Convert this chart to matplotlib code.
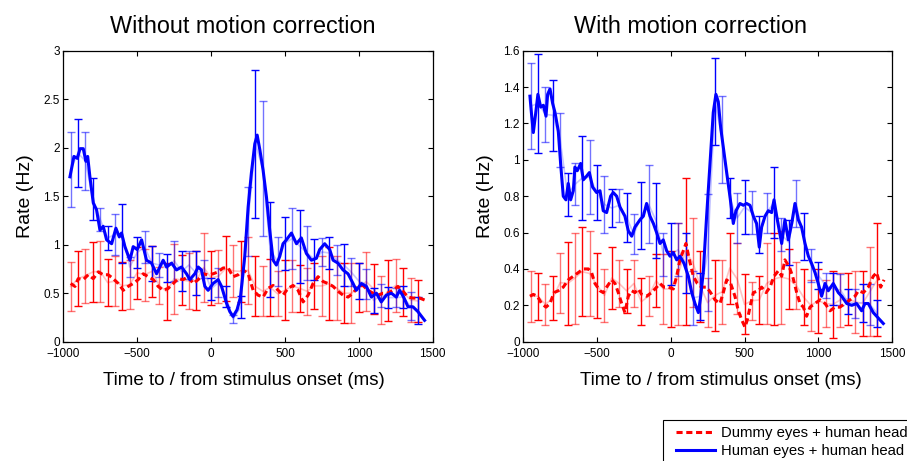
import numpy as np
import matplotlib
matplotlib.use("Agg")
import matplotlib.pyplot as plt
from matplotlib.patches import Rectangle

plt.rcParams['font.family'] = ['Liberation Sans', 'DejaVu Sans']

# ---------------- data ----------------
titles = ["Without motion correction", "With motion correction"]
xlabel = "Time to / from stimulus onset (ms)"
ylabel = "Rate (Hz)"
legend_labels = ["Dummy eyes + human head", "Human eyes + human head"]

bar_t = list(range(-950, 1401, 50))

# Left panel, human (blue)
L_human_t = [-955,-928,-905,-887,-865,-847,-835,-820,-797,-775,-752,-730,-707,-673,-644,-621,-606,-583,-549,-527,
             -500,-470,-437,-403,-369,-324,-301,-267,-234,-200,-166,-144,-110,-87,-65,-42,-20,14,48,71,
             104,127,149,176,199,228,251,273,296,312,330,352,375,397,420,442,465,487,510,544,
             578,611,645,679,713,735,769,803,826,859,893,927,961,983,1017,1051,1085,1119,1152,1186,
             1220,1254,1276,1303,1333,1366,1400,1445]
L_human_v = [1.70,1.91,1.89,1.99,1.99,1.86,1.91,1.70,1.43,1.36,1.15,1.19,1.05,1.01,1.17,1.08,1.12,0.98,0.84,0.98,
             0.95,1.05,0.84,0.81,0.70,0.84,0.77,0.81,0.74,0.77,0.70,0.64,0.70,0.77,0.74,0.57,0.53,0.60,0.64,0.57,
             0.40,0.31,0.26,0.33,0.46,0.88,1.39,1.74,2.04,2.13,1.98,1.77,1.49,1.15,0.84,0.79,0.88,1.01,1.05,1.12,
             1.01,1.07,0.91,0.84,0.86,0.95,1.01,0.95,0.84,0.81,0.74,0.70,0.60,0.53,0.60,0.57,0.46,0.50,0.41,0.48,
             0.50,0.46,0.53,0.46,0.36,0.36,0.31,0.22]
L_human_hi = [2.16,2.30,2.16,1.69,1.38,1.19,1.32,1.42,0.87,1.08,1.14,0.99,0.91,0.90,1.04,0.93,0.93,0.93,0.84,0.66,
              0.76,0.57,0.28,0.47,1.59,2.80,2.48,1.44,1.08,1.29,1.38,1.36,1.19,1.06,1.07,1.08,1.00,1.01,0.86,0.81,
              0.75,0.55,0.60,0.56,0.55,0.57,0.51,0.46]
L_human_lo = [1.39,1.59,1.56,1.25,1.14,0.95,0.89,0.81,0.67,0.76,0.81,0.63,0.67,0.62,0.63,0.52,0.65,0.48,0.66,0.43,
              0.46,0.36,0.19,0.24,0.88,1.28,1.09,0.46,0.57,0.74,0.75,0.61,0.64,0.64,0.78,0.75,0.69,0.57,0.57,0.44,
              0.44,0.30,0.36,0.35,0.36,0.35,0.22,0.18]

# Left panel, dummy (red)
L_dummy_t = [-950,-921,-899,-865,-831,-797,-763,-730,-696,-662,-628,-594,-561,-527,-493,-459,-425,-391,-358,-324,
             -290,-256,-222,-189,-155,-121,-87,-53,-20,14,48,82,116,149,183,217,251,285,318,352,
             386,420,454,487,521,555,589,623,657,690,724,758,792,826,859,893,927,961,995,1028,
             1062,1096,1130,1164,1197,1231,1265,1299,1333,1366,1411,1445]
L_dummy_v = [0.60,0.57,0.65,0.64,0.69,0.65,0.72,0.69,0.69,0.65,0.60,0.53,0.57,0.60,0.64,0.70,0.67,0.64,0.57,0.53,
             0.55,0.60,0.65,0.64,0.67,0.60,0.64,0.70,0.69,0.70,0.72,0.76,0.76,0.67,0.69,0.74,0.70,0.53,0.48,0.46,
             0.55,0.58,0.53,0.48,0.55,0.58,0.53,0.41,0.48,0.60,0.67,0.62,0.60,0.57,0.52,0.48,0.46,0.50,0.57,0.58,
             0.53,0.50,0.48,0.50,0.50,0.53,0.57,0.52,0.46,0.45,0.45,0.43]
L_dummy_hi = [0.82,0.93,0.96,1.03,1.04,0.85,0.88,0.82,0.84,0.98,0.96,0.99,0.77,0.81,1.01,0.89,0.91,0.93,1.12,0.94,
              0.95,1.09,1.00,1.04,1.08,0.88,0.78,0.85,0.73,0.84,0.84,0.79,0.76,0.81,0.88,0.98,0.88,0.81,0.81,0.81,
              0.92,0.80,0.68,0.84,0.85,0.76,0.66,0.64]
L_dummy_lo = [0.32,0.37,0.40,0.41,0.41,0.37,0.37,0.33,0.34,0.44,0.42,0.46,0.39,0.22,0.29,0.38,0.34,0.33,0.41,0.38,
              0.40,0.42,0.46,0.41,0.39,0.26,0.26,0.27,0.26,0.22,0.31,0.31,0.28,0.34,0.27,0.22,0.22,0.19,0.19,0.31,
              0.32,0.29,0.18,0.21,0.31,0.26,0.20,0.20]

# Right panel, human (blue)
R_human_t = [-955,-943,-932,-914,-901,-882,-864,-846,-835,-819,-801,-785,-763,-747,-729,-711,-695,-679,-661,-650,
             -634,-611,-593,-571,-552,-530,-503,-480,-458,-435,-408,-390,-367,-344,-311,-288,-265,-243,-209,-186,
             -164,-141,-118,-96,-73,-51,-28,-5,17,40,62,90,119,142,164,187,203,221,243,266,
             288,306,322,338,356,379,401,424,442,469,492,514,537,560,582,600,616,639,661,684,
             700,718,736,752,774,797,820,842,865,887,910,933,955,978,1000,1023,1046,1068,1102,1136,
             1159,1193,1227,1260,1294,1317,1339,1373,1407,1441]
R_human_v = [1.35,1.24,1.15,1.27,1.36,1.29,1.30,1.24,1.36,1.39,1.31,1.26,1.16,0.98,0.80,0.78,0.87,0.78,0.83,0.96,
             0.94,0.98,0.89,0.91,0.93,0.85,0.82,0.83,0.72,0.71,0.80,0.82,0.80,0.74,0.69,0.61,0.58,0.63,0.67,0.69,
             0.76,0.69,0.65,0.60,0.54,0.56,0.50,0.47,0.49,0.45,0.47,0.43,0.36,0.27,0.21,0.16,0.25,0.39,0.69,0.98,
             1.26,1.36,1.32,1.18,1.07,0.93,0.80,0.65,0.72,0.76,0.75,0.76,0.75,0.69,0.65,0.52,0.63,0.69,0.72,0.71,
             0.78,0.69,0.61,0.54,0.67,0.56,0.65,0.76,0.67,0.63,0.54,0.47,0.43,0.38,0.32,0.25,0.32,0.28,0.32,0.27,
             0.25,0.21,0.20,0.21,0.17,0.21,0.21,0.16,0.13,0.10]
R_human_hi = [1.53,1.58,1.40,1.44,1.26,0.93,0.98,1.13,1.11,0.97,0.91,0.84,0.84,0.82,0.70,0.88,0.97,0.87,0.60,0.65,
              0.65,0.60,0.39,0.38,0.81,1.56,1.35,0.90,0.82,0.89,0.83,0.69,0.82,0.96,0.68,0.67,0.89,0.71,0.51,0.44,
              0.38,0.38,0.37,0.29,0.29,0.32,0.32,0.23]
R_human_lo = [1.06,1.04,1.10,1.05,0.96,0.69,0.75,0.67,0.70,0.67,0.60,0.63,0.66,0.55,0.48,0.51,0.54,0.46,0.36,0.31,
              0.36,0.27,0.09,0.12,0.17,1.08,0.87,0.68,0.54,0.59,0.59,0.49,0.60,0.57,0.50,0.42,0.63,0.45,0.33,0.29,
              0.24,0.20,0.20,0.15,0.13,0.11,0.09,0.08]

# Right panel, dummy (red)
R_dummy_t = [-955,-932,-905,-876,-846,-819,-792,-763,-729,-695,-661,-627,-593,-559,-537,-514,-480,-458,-435,-401,
             -378,-356,-333,-311,-288,-265,-243,-220,-198,-164,-130,-96,-73,-46,-17,17,40,62,85,103,
             126,153,180,209,243,270,300,334,356,379,406,435,458,481,503,519,537,560,594,616,
             646,673,700,729,752,774,804,826,854,876,899,921,944,978,1012,1046,1080,1113,1147,1181,
             1215,1249,1272,1306,1339,1373,1396,1423,1446]
R_dummy_v = [0.25,0.26,0.25,0.21,0.19,0.21,0.27,0.28,0.30,0.34,0.36,0.38,0.40,0.40,0.38,0.32,0.28,0.27,0.30,0.34,
             0.32,0.27,0.21,0.16,0.25,0.28,0.27,0.29,0.26,0.25,0.27,0.30,0.32,0.30,0.30,0.29,0.36,0.45,0.50,0.54,
             0.45,0.36,0.32,0.30,0.30,0.27,0.23,0.21,0.27,0.34,0.32,0.25,0.17,0.12,0.08,0.12,0.19,0.27,0.28,0.30,
             0.27,0.30,0.36,0.39,0.36,0.45,0.41,0.36,0.27,0.21,0.19,0.14,0.19,0.21,0.23,0.21,0.17,0.19,0.19,0.21,
             0.23,0.25,0.28,0.27,0.30,0.36,0.38,0.30,0.34]
R_dummy_hi = [0.39,0.38,0.32,0.36,0.49,0.55,0.60,0.63,0.61,0.49,0.40,0.52,0.45,0.40,0.45,0.35,0.36,0.48,0.48,0.50,
              0.65,0.90,0.68,0.50,0.35,0.45,0.45,0.60,0.54,0.37,0.33,0.36,0.54,0.60,0.61,0.51,0.44,0.40,0.34,0.40,
              0.34,0.39,0.38,0.38,0.39,0.39,0.52,0.65]
R_dummy_lo = [0.11,0.12,0.09,0.12,0.16,0.09,0.10,0.14,0.14,0.13,0.11,0.18,0.19,0.16,0.19,0.09,0.14,0.19,0.10,0.08,
              0.09,0.09,0.19,0.11,0.08,0.06,0.10,0.21,0.15,0.04,0.12,0.10,0.10,0.09,0.10,0.18,0.18,0.09,0.06,0.05,
              0.08,0.02,0.08,0.09,0.05,0.03,0.03,0.03]

x_ticks = [-1000, -500, 0, 500, 1000, 1500]
y_ticks = [[0, 0.5, 1, 1.5, 2, 2.5, 3], [0, 0.2, 0.4, 0.6, 0.8, 1, 1.2, 1.4, 1.6]]
y_lims = [(0, 3), (0, 1.6)]

# ---------------- plotting ----------------
fig = plt.figure(figsize=(9.07, 4.61), dpi=100)
W, H = 907, 461
ax_boxes = [(63.3, 50.7, 432.7, 341.7), (523.3, 50.7, 892.0, 341.7)]
title_x = [0.487, 0.4535]
xlabel_x = [0.4886, 0.536]

RED = '#ff0000'
BLUE = '#0000ff'

panels = [
    (L_dummy_t, L_dummy_v, L_dummy_lo, L_dummy_hi, L_human_t, L_human_v, L_human_lo, L_human_hi),
    (R_dummy_t, R_dummy_v, R_dummy_lo, R_dummy_hi, R_human_t, R_human_v, R_human_lo, R_human_hi),
]

handles = []
for i, (box, pdata) in enumerate(zip(ax_boxes, panels)):
    x0, y0, x1, y1 = box
    ax = fig.add_axes([x0 / W, 1 - y1 / H, (x1 - x0) / W, (y1 - y0) / H])
    dt, dv, dlo, dhi, ht, hv, hlo, hhi = pdata
    bt = np.array(bar_t)
    series = [(dt, dv, np.array(dlo), np.array(dhi), RED, (0, (2.0, 1.2)), '#ff9c9c'),
              (ht, hv, np.array(hlo), np.array(hhi), BLUE, '-', '#a0a0ff')]
    for (t, v, lo, hi, col, ls, pale) in series:
        mid = (lo + hi) / 2
        ax.plot(bt, mid, color=pale, lw=1.2, alpha=0.6, zorder=1)
        for sl, a in ((slice(0, None, 2), 0.55), (slice(1, None, 2), 1.0)):
            ax.errorbar(bt[sl], mid[sl], yerr=[mid[sl] - lo[sl], hi[sl] - mid[sl]], fmt='none',
                        ecolor=col, alpha=a, elinewidth=1.0, capsize=3.0, capthick=1.0, zorder=2)
    for (t, v, lo, hi, col, ls, pale), lab in zip(series, legend_labels):
        ln, = ax.plot(t, v, color=col, lw=2.2, linestyle=ls, zorder=3, label=lab)
        if i == 0:
            handles.append(ln)

    ax.set_xlim(-1000, 1500)
    ax.set_ylim(*y_lims[i])
    ax.set_xticks(x_ticks)
    ax.set_yticks(y_ticks[i])
    ax.set_yticklabels([f"{v:g}" for v in y_ticks[i]], va='center_baseline')
    ax.tick_params(direction='in', top=True, right=True, length=3.5, width=0.8, labelsize=8.5)
    ax.tick_params(axis='x', pad=4.5)
    ax.tick_params(axis='y', pad=2.5)
    for sp in ax.spines.values():
        sp.set_linewidth(0.9)
    ax.set_title(titles[i], fontsize=16.8, pad=12.5, x=title_x[i])
    ax.set_xlabel(xlabel, fontsize=13.5, labelpad=9)
    ax.xaxis.label.set_x(xlabel_x[i])
    ax.set_ylabel(ylabel, fontsize=14, labelpad=7)

# legend box running off the bottom-right corner of the figure
fig.patches.append(Rectangle((663 / W, -0.2), 1.0, 1 - 420 / H + 0.2, transform=fig.transFigure,
                             fill=False, edgecolor='black', linewidth=0.8))
leg = fig.legend(handles=handles, labels=legend_labels, loc='upper left',
                 bbox_to_anchor=(676 / W, 1 - 426 / H), fontsize=10.7, frameon=False,
                 handlelength=2.6, borderpad=0, labelspacing=0.3,
                 handletextpad=0.45, borderaxespad=0)

fig.savefig("out.png", dpi=100)
